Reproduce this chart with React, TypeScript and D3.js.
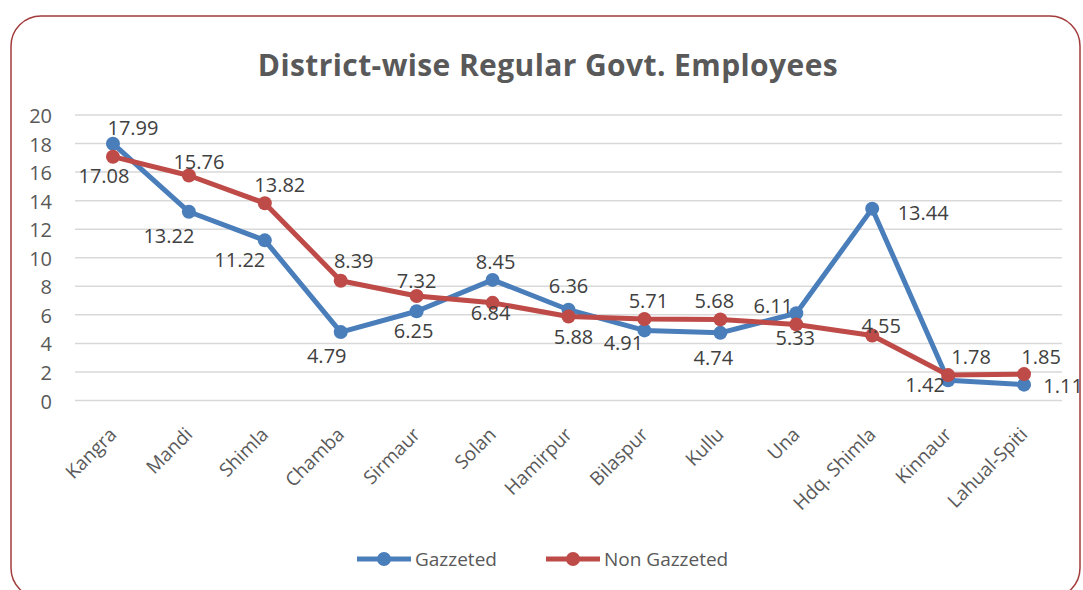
import React, { useEffect, useRef } from "react";
import * as d3 from "d3";

// Districts and values (per cent share)
const districts = [
  "Kangra", "Mandi", "Shimla", "Chamba", "Sirmaur", "Solan", "Hamirpur",
  "Bilaspur", "Kullu", "Una", "Hdq. Shimla", "Kinnaur", "Lahual-Spiti",
];
const gazzeted = [17.99, 13.22, 11.22, 4.79, 6.25, 8.45, 6.36, 4.91, 4.74, 6.11, 13.44, 1.42, 1.11];
const nonGazzeted = [17.08, 15.76, 13.82, 8.39, 7.32, 6.84, 5.88, 5.71, 5.68, 5.33, 4.55, 1.78, 1.85];
const yTicks = [0, 2, 4, 6, 8, 10, 12, 14, 16, 18, 20];

// label offsets from each point, as Excel placed them
const gazOffsets = [
  [20, -16], [-20, 24], [-25, 19], [-14, 24], [-3, 20], [3, -18], [0, -24],
  [-21, 12], [-7, 25], [-23, -7], [51, 4], [-23, 5], [39, 1],
];
const nonOffsets = [
  [-9, 19], [10, -14], [15, -18], [13, -20], [0, -15], [-2, 10], [5, 20],
  [4, -18], [-6, -19], [-1, 13], [9, -10], [23, -18], [17, -17],
];

export default function App() {
  const ref = useRef<SVGSVGElement>(null);

  useEffect(() => {
    const svg = d3.select(ref.current);
    svg.selectAll("*").remove();
    const font = "'Open Sans', sans-serif";
    const grey = "#595959";

    // chart border
    svg.append("rect")
      .attr("x", 11).attr("y", 16)
      .attr("width", 1069).attr("height", 582)
      .attr("rx", 30)
      .attr("fill", "#fff")
      .attr("stroke", "#a33b3b")
      .attr("stroke-width", 1.5);

    svg.append("text")
      .attr("x", 548).attr("y", 76)
      .attr("text-anchor", "middle")
      .attr("font-family", font)
      .attr("font-weight", "bold")
      .attr("font-size", 30)
      .attr("letter-spacing", 0.4)
      .attr("fill", grey)
      .text("District-wise Regular Govt. Employees");

    const x = d3.scaleBand<string>().domain(districts).range([75, 1062]);
    const cx = (d: string) => (x(d) as number) + x.bandwidth() / 2;
    const y = d3.scaleLinear().domain([0, 20]).range([400.5, 115]);

    // gridlines + y labels
    svg.append("g").selectAll("line").data(yTicks).join("line")
      .attr("x1", 75).attr("x2", 1062)
      .attr("y1", (d) => y(d)).attr("y2", (d) => y(d))
      .attr("stroke", "#d9d9d9").attr("stroke-width", 1.5);

    svg.append("g").selectAll("text").data(yTicks).join("text")
      .attr("x", 52).attr("y", (d) => y(d))
      .attr("dy", "0.4em")
      .attr("text-anchor", "end")
      .attr("font-family", font).attr("font-size", 20)
      .attr("fill", grey)
      .text((d) => d);

    // category labels
    svg.append("g").selectAll("text").data(districts).join("text")
      .attr("transform", (d) => `translate(${cx(d)},431) rotate(-45)`)
      .attr("dy", "0.35em")
      .attr("text-anchor", "end")
      .attr("font-family", font).attr("font-size", 19)
      .attr("fill", grey)
      .text((d) => d);

    const series = [
      { name: "Gazzeted", values: gazzeted, color: "#4a7ebb", offsets: gazOffsets },
      { name: "Non Gazzeted", values: nonGazzeted, color: "#be4b48", offsets: nonOffsets },
    ];

    const line = d3.line<number>()
      .x((_, i) => cx(districts[i]))
      .y((d) => y(d));

    series.forEach((s) => {
      svg.append("path")
        .datum(s.values)
        .attr("d", line)
        .attr("fill", "none")
        .attr("stroke", s.color)
        .attr("stroke-width", 5)
        .attr("stroke-linejoin", "round");
      svg.append("g").selectAll("circle").data(s.values).join("circle")
        .attr("cx", (_, i) => cx(districts[i]))
        .attr("cy", (d) => y(d))
        .attr("r", 7)
        .attr("fill", s.color);
    });

    series.forEach((s) => {
      svg.append("g").selectAll("text").data(s.values).join("text")
        .attr("x", (_, i) => cx(districts[i]) + s.offsets[i][0])
        .attr("y", (d, i) => y(d) + s.offsets[i][1])
        .attr("dy", "0.36em")
        .attr("text-anchor", "middle")
        .attr("font-family", font).attr("font-size", 20)
        .attr("fill", "#404040")
        .text((d) => d.toFixed(2));
    });

    // legend
    const legend = [
      { name: "Gazzeted", color: "#4a7ebb", x: 357 },
      { name: "Non Gazzeted", color: "#be4b48", x: 546 },
    ];
    legend.forEach((l) => {
      const g = svg.append("g").attr("transform", `translate(${l.x},559)`);
      g.append("line").attr("x1", 0).attr("x2", 54)
        .attr("stroke", l.color).attr("stroke-width", 5);
      g.append("circle").attr("cx", 27).attr("r", 7).attr("fill", l.color);
      g.append("text").attr("x", 58).attr("dy", "0.36em")
        .attr("font-family", font).attr("font-size", 19)
        .attr("fill", grey)
        .text(l.name);
    });
  }, []);

  return (
    <div>
      <svg ref={ref} width={1083} height={590} style={{ position: "absolute", left: 0, top: 0 }}></svg>
    </div>
  );
}
